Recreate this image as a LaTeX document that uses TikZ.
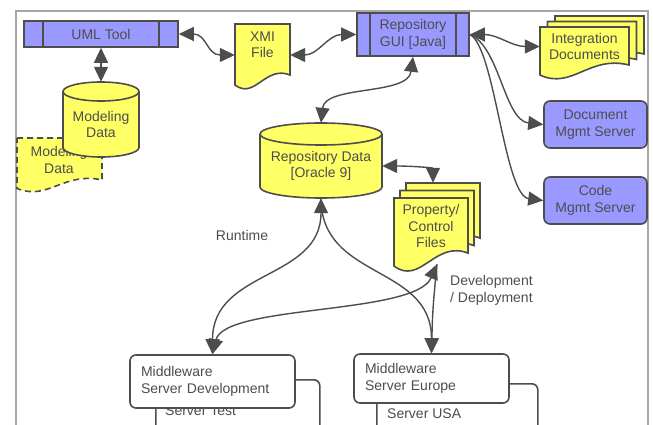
\documentclass[tikz,border=0pt]{standalone}
\usepackage{fontspec}
\setmainfont{Liberation Sans}
\usetikzlibrary{shapes,arrows.meta}

\definecolor{boxblue}{HTML}{9999FF}
\definecolor{docyellow}{HTML}{FFFF66}
\definecolor{linegray}{HTML}{4D4D4D}
\definecolor{txtgray}{HTML}{4D4D4D}
\definecolor{framegray}{HTML}{A6A6A6}

% document outline: xl, yt, xr, yb, wave
\newcommand{\docshape}[6][]{%
  \filldraw[shapeline,fill=docyellow,#1] (#2,#3) -- (#4,#3) -- (#4,{#5-1.3*#6})
    .. controls ({#4-0.45*(#4-#2)},{#5-2.3*#6}) and ({#2+0.36*(#4-#2)},{#5+1.2*#6}) .. (#2,{#5-0.3*#6}) -- cycle;}
% cylinder outline: xl, yt, xr, yb, rx, ry
\newcommand{\cylshape}[6]{%
  \filldraw[shapeline,fill=docyellow] (#1,{#2+#6}) -- (#1,{#4-#6})
    arc[start angle=180,end angle=360,x radius=#5pt,y radius=#6pt] -- (#3,{#2+#6})
    arc[start angle=0,end angle=180,x radius=#5pt,y radius=#6pt] -- cycle;
  \draw[shapeline] (#1,{#2+#6}) arc[start angle=180,end angle=360,x radius=#5pt,y radius=#6pt];}

\begin{document}
\begin{tikzpicture}[x=1pt, y=-1pt,
  every node/.style={font=\fontsize{14pt}{16.5pt}\selectfont, text=txtgray},
  shapeline/.style={draw=linegray, line width=1.6pt},
  procbox/.style={shapeline, fill=boxblue, align=center, inner sep=0pt,
    path picture={\draw[linegray, line width=1.6pt]
      ([xshift=#1]path picture bounding box.north west) -- ([xshift=#1]path picture bounding box.south west)
      ([xshift=-#1]path picture bounding box.north east) -- ([xshift=-#1]path picture bounding box.south east);}},
  srvbox/.style={shapeline, fill=boxblue, rounded corners=6pt, align=center, inner sep=0pt,
    minimum width=103pt, minimum height=47pt},
  mwbox/.style={shapeline, fill=white, rounded corners=6pt, align=left, inner xsep=11pt, inner ysep=0pt},
  doctext/.style={align=center, inner sep=0pt},
  link/.style={draw=linegray, line width=1.4pt, >={Triangle[length=15pt,width=14pt]}},
]
\useasboundingbox (0,0) rectangle (653,425);
\clip (0,0) rectangle (653,425);

% frame
\draw[framegray, line width=1.2pt] (16,11) rectangle (648,450);

% modeling data (copy + cylinder)
\docshape[dash pattern=on 6pt off 4pt]{17}{138}{102}{191}{8.5}
\node[doctext] (modcopy) at (59,160) {Modeling\\Data};
\cylshape{63}{82}{139}{157}{38}{9.5}
\node[doctext, minimum width=76pt, minimum height=65.5pt] (moddata) at (101,124.25) {Modeling\\Data};

% tools
\node[procbox=19pt, minimum width=154pt, minimum height=26pt] (uml) at (101,34) {UML Tool};
\node[procbox=13pt, minimum width=112pt, minimum height=43pt] (gui) at (413,34.5) {Repository\\GUI [Java]};

% xmi file
\docshape{235}{24}{290}{88}{10}
\node[doctext, minimum width=55pt, minimum height=42pt] (xmi) at (262.5,45) {XMI\\File};

% integration documents
\docshape{555}{16}{644}{67}{10}
\docshape{547.5}{21.5}{636.5}{72.5}{10}
\docshape{540}{27}{629}{78}{10}
\node[doctext, minimum width=89pt, minimum height=39pt] (integ) at (584.5,46.5) {Integration\\Documents};

% servers
\node[srvbox] (docsrv) at (595.5,124.5) {Document\\Mgmt Server};
\node[srvbox] (codesrv) at (595.5,200.5) {Code\\Mgmt Server};

% repository data
\cylshape{260}{123}{382}{198}{61}{11}
\node[doctext, minimum width=122pt, minimum height=64pt] (repo) at (321,166) {Repository Data\\{}[Oracle 9]};

% property / control files
\docshape{406}{183}{480}{255}{13}
\docshape{400}{190.5}{474}{262.5}{13}
\docshape{394}{198}{468}{270}{13}
\node[doctext, minimum width=74pt, minimum height=56pt] (props) at (431,226) {Property/\\Control\\Files};

% middleware servers
\node[mwbox, minimum width=164pt, minimum height=90pt, anchor=north west] (mdtest) at (155,379) {};
\node[anchor=west, inner sep=0pt] (testlbl) at (165,411) {Server Test};
\node[mwbox, text width=143pt, minimum height=53pt] (mddev) at (212.5,381.5) {Middleware\\Server Development};
\node[mwbox, minimum width=161pt, minimum height=90pt, anchor=north west] (mdusa) at (376,383) {};
\node[anchor=west, inner sep=0pt] (usalbl) at (387,414) {Server USA};
\node[mwbox, text width=133pt, minimum height=49pt] (mdeu) at (431.5,378.5) {Middleware\\Server Europe};

% labels
\node (runtime) at (242,235) {Runtime};
\node[align=left, anchor=west, inner sep=0pt] (devlbl) at (450,290.5) {Development\\/ Deployment};

% connectors
\draw[link,<->] (uml.south) -- ([yshift=9.5pt]moddata.north);
\draw[link,<->] (uml.east) .. controls +(28,0) and +(-28,0) .. ([yshift=-10pt]xmi.west);
\draw[link,<->] ([yshift=-10pt]xmi.east) .. controls +(28,0) and +(-28,0) .. (gui.west);
\draw[link,<->] (gui.south) .. controls +(-5,39) and +(4,-38) .. ([yshift=11pt]repo.north);
\draw[link,<->] (gui.east) .. controls +(28,0) and +(-28,0) .. (integ.west);
\draw[link,->] (gui.east) .. controls +(30,12) and +(-39,-4) .. (docsrv.west);
\draw[link,->] (gui.east) .. controls +(25,12) and +(-39,-5) .. (codesrv.west);
\draw[link,<->] (repo.east) .. controls +(30,0) and +(0,-15) .. ([xshift=2pt,yshift=15pt]props.north);
\draw[link,<->] (repo.south) .. controls +(0,82) and +(0,-85) .. (mddev.north);
\draw[link,->] (repo.south) .. controls +(0,82) and +(0,-89) .. (mdeu.north);
\draw[link,<->] ([xshift=6pt,yshift=-10pt]props.south) .. controls +(-22,51) and +(12,-50) .. (mddev.north);
\draw[link,->] ([xshift=6pt,yshift=-10pt]props.south) .. controls +(-4,40) and +(1,-40) .. (mdeu.north);

\end{tikzpicture}
\end{document}
